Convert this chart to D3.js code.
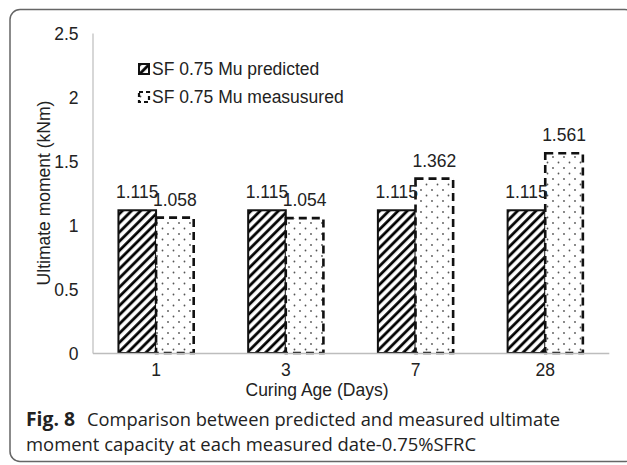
<!DOCTYPE html>
<html>
<head>
<meta charset="UTF-8">
<title>Ultimate moment - 0.75%SFRC</title>
<script src="https://d3js.org/d3.v7.min.js"></script>
<style>
  body { margin: 0; background: #fff; }
  .lbl { font-family: "Liberation Sans", Arial, sans-serif; font-size: 17.5px; fill: #222; }
  .cap { font-family: "Open Sans", "Noto Sans", sans-serif; font-size: 19px; fill: #222; }
</style>
</head>
<body>
<div id="chart"></div>
<script>
// data
const categories = ["1", "3", "7", "28"];
const series = ["SF 0.75 Mu predicted", "SF 0.75 Mu measusured"];
const predicted = [1.115, 1.115, 1.115, 1.115];
const measured = [1.058, 1.054, 1.362, 1.561];
const yTicks = [0, 0.5, 1, 1.5, 2, 2.5];

const W = 627, H = 465;
const svg = d3.select("#chart").append("svg").attr("width", W).attr("height", H);

// patterns
const defs = svg.append("defs");
defs.append("pattern")
    .attr("id", "hatch").attr("patternUnits", "userSpaceOnUse")
    .attr("width", 6.5).attr("height", 6.5)
    .attr("patternTransform", "rotate(45)")
  .call(p => {
    p.append("rect").attr("width", 6.5).attr("height", 6.5).attr("fill", "#fff");
    p.append("line").attr("x1", 1.6).attr("y1", 0).attr("x2", 1.6).attr("y2", 6.5)
      .attr("stroke", "#000").attr("stroke-width", 2.8);
  });
defs.append("pattern")
    .attr("id", "dots").attr("patternUnits", "userSpaceOnUse")
    .attr("width", 11).attr("height", 11)
  .call(p => {
    p.append("rect").attr("width", 11).attr("height", 11).attr("fill", "#fff");
    p.append("circle").attr("cx", 3).attr("cy", 3).attr("r", 0.9).attr("fill", "#555");
    p.append("circle").attr("cx", 8.5).attr("cy", 8.5).attr("r", 0.9).attr("fill", "#555");
  });

// frame
svg.append("rect").attr("x", 10).attr("y", 9.5).attr("width", 625).attr("height", 452)
  .attr("rx", 10).attr("fill", "none").attr("stroke", "#666").attr("stroke-width", 1.5);

const mLeft = 92.5, mRight = 608.8, mTop = 33, mBottom = 353;

const x0 = d3.scaleBand().domain(categories).range([mLeft, mRight])
  .paddingInner(0.42).paddingOuter(0.2);
const x1 = d3.scaleBand().domain(series).range([0, x0.bandwidth()]);
const y = d3.scaleLinear().domain([0, 2.5]).range([mBottom, mTop]);

// y axis
const yAxis = svg.append("g").attr("transform", `translate(${mLeft},0)`)
  .call(d3.axisLeft(y).tickValues(yTicks).tickSize(0).tickPadding(14).tickFormat(d3.format("")));
yAxis.select(".domain").attr("stroke", "#bdbdbd").attr("stroke-width", 1.2);
yAxis.selectAll("text").attr("class", "lbl").attr("font-size", null).attr("font-family", null)
  .attr("dy", "0.35em");

// bars
const rows = categories.map((c, i) => ({ c, vals: [predicted[i], measured[i]] }));
const g = svg.append("g");
rows.forEach(r => {
  r.vals.forEach((v, j) => {
    const bx = x0(r.c) + x1(series[j]);
    g.append("rect")
      .attr("x", bx).attr("y", y(v))
      .attr("width", x1.bandwidth()).attr("height", y(0) - y(v))
      .attr("fill", j === 0 ? "url(#hatch)" : "url(#dots)")
      .attr("stroke", "#111")
      .attr("stroke-width", j === 0 ? 2 : 2.6)
      .attr("stroke-dasharray", j === 0 ? null : "8,5");
  });
});

// x axis
const xAxis = svg.append("g").attr("transform", `translate(0,${mBottom})`)
  .call(d3.axisBottom(x0).tickSize(0).tickPadding(11));
xAxis.select(".domain").attr("stroke", "#bdbdbd").attr("stroke-width", 1.5);
xAxis.selectAll("text").attr("class", "lbl").attr("font-size", null).attr("font-family", null);

// value labels
rows.forEach(r => {
  r.vals.forEach((v, j) => {
    svg.append("text").attr("class", "lbl")
      .attr("x", x0(r.c) + x1(series[j]) + x1.bandwidth() / 2)
      .attr("y", y(v) - 12)
      .attr("text-anchor", "middle")
      .text(d3.format(".3f")(v));
  });
});

// axis titles
svg.append("text").attr("class", "lbl")
  .attr("transform", `translate(50,${(mTop + mBottom) / 2}) rotate(-90)`)
  .attr("text-anchor", "middle").text("Ultimate moment (kNm)");
svg.append("text").attr("class", "lbl")
  .attr("x", 317).attr("y", 396).attr("text-anchor", "middle").text("Curing Age (Days)");

// legend
const leg = svg.append("g");
series.forEach((s, i) => {
  const ly = 69 + i * 28;
  leg.append("rect").attr("x", 139).attr("y", ly - 5).attr("width", 10).attr("height", 10)
    .attr("fill", i === 0 ? "url(#hatch)" : "url(#dots)")
    .attr("stroke", "#111").attr("stroke-width", i === 0 ? 2 : 2.2)
    .attr("stroke-dasharray", i === 0 ? null : "4,3");
  leg.append("text").attr("class", "lbl").attr("x", 152).attr("y", ly).attr("dy", "0.35em").text(s);
});

// caption
svg.append("text").attr("class", "cap").attr("x", 26).attr("y", 426)
  .attr("font-weight", "bold").attr("fill", "#111")
  .attr("textLength", 49).attr("lengthAdjust", "spacingAndGlyphs").text("Fig. 8");
svg.append("text").attr("class", "cap").attr("x", 87).attr("y", 426)
  .attr("textLength", 473).attr("lengthAdjust", "spacingAndGlyphs")
  .text("Comparison between predicted and measured ultimate");
svg.append("text").attr("class", "cap").attr("x", 26).attr("y", 451)
  .attr("textLength", 450).attr("lengthAdjust", "spacingAndGlyphs")
  .text("moment capacity at each measured date-0.75%SFRC");
</script>
</body>
</html>
